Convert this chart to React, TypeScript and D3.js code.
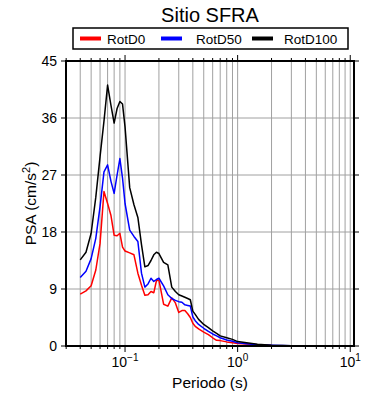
import * as React from 'react';
import * as d3 from 'd3';

// periods (s) shared by the three spectra
const periods = [
  0.04, 0.045, 0.05, 0.055, 0.06, 0.065, 0.07, 0.075, 0.08, 0.085, 0.09, 0.095,
  0.1, 0.11, 0.12, 0.13, 0.14, 0.15, 0.16, 0.17, 0.18, 0.19, 0.2, 0.22, 0.24,
  0.26, 0.28, 0.3, 0.32, 0.34, 0.36, 0.38, 0.4, 0.42, 0.45, 0.5, 0.55, 0.6,
  0.65, 0.7, 0.8, 0.9, 1.0, 1.2, 1.5, 2.0, 2.5, 3.0, 4.0, 5.0, 6.0, 7.5, 10.0,
];

const rotD0 = [
  8.2, 8.7, 9.5, 12.0, 16.2, 24.4, 22.5, 20.6, 17.5, 17.4, 17.8, 15.6,
  15.0, 14.7, 14.4, 11.5, 9.6, 8.0, 8.1, 8.6, 8.4, 10.3, 10.4, 6.6, 6.3,
  7.6, 6.8, 5.3, 5.6, 5.6, 5.1, 4.5, 3.6, 3.1, 2.7, 2.2, 1.8, 1.3,
  0.9, 0.85, 0.65, 0.52, 0.4, 0.3, 0.18, 0.08, 0.05, 0.03, 0.02, 0.012, 0.01, 0.008, 0.005,
];

const rotD50 = [
  10.8, 11.8, 13.8, 17.0, 22.0, 27.5, 28.6, 26.0, 24.1, 27.0, 29.6, 26.5,
  22.5, 18.3, 17.3, 16.5, 11.5, 9.3, 9.8, 10.7, 10.2, 10.5, 10.7, 9.5, 8.1,
  7.5, 7.2, 7.0, 6.9, 6.5, 6.4, 6.3, 4.6, 4.0, 3.4, 2.8, 2.3, 1.9,
  1.6, 1.3, 0.95, 0.75, 0.5, 0.35, 0.2, 0.1, 0.06, 0.04, 0.025, 0.015, 0.012, 0.009, 0.006,
];

const rotD100 = [
  13.6, 14.8, 17.8, 23.5, 29.9, 35.5, 41.2, 38.0, 35.2, 37.5, 38.6, 38.2,
  34.6, 25.0, 22.3, 20.3, 16.0, 12.5, 12.7, 13.5, 14.4, 14.8, 14.6, 13.2, 12.8,
  9.3, 8.6, 8.1, 7.9, 7.7, 7.5, 7.3, 5.5, 5.0, 4.2, 3.4, 2.9, 2.4,
  2.0, 1.6, 1.3, 1.05, 0.7, 0.5, 0.26, 0.12, 0.08, 0.05, 0.03, 0.02, 0.015, 0.01, 0.008,
];

const seriesNames = ['RotD0', 'RotD50', 'RotD100'];
const seriesColors = ['#ff0000', '#0000ff', '#000000'];
const seriesValues = [rotD0, rotD50, rotD100];

const yTicks = [0, 9, 18, 27, 36, 45];
const xMajorExps = [-1, 0, 1];

const FONT = '"Liberation Sans", Arial, Helvetica, sans-serif';

export default function App() {
  const width = 390;
  const height = 400;
  const plot = { left: 66, right: 354, top: 61, bottom: 346 };

  const x = d3.scaleLog().domain([0.0299, 10.8]).range([plot.left, plot.right]);
  const y = d3.scaleLinear().domain([0, 45]).range([plot.bottom, plot.top]);

  // every 1..9 multiple per decade inside the domain
  const minor: number[] = [];
  for (let e = -2; e <= 1; e++) {
    for (let k = 1; k <= 9; k++) {
      const v = k * Math.pow(10, e);
      if (v >= 0.0299 && v <= 10.8) minor.push(v);
    }
  }
  const isMajor = (v: number) => Math.abs(Math.log10(v) - Math.round(Math.log10(v))) < 1e-9;

  const line = d3
    .line<number>()
    .x((_, i) => x(periods[i]))
    .y(d => y(d));

  const legendItems = [
    { lx: 80, tx: 107 },
    { lx: 161, tx: 196 },
    { lx: 252, tx: 284 },
  ];

  return (
    <svg
      width={width}
      height={height}
      style={{ position: 'absolute', left: 0, top: 0, background: '#fff' }}
      fontFamily={FONT}
    >
      <defs>
        <clipPath id="plotClip">
          <rect x={plot.left} y={plot.top} width={plot.right - plot.left} height={plot.bottom - plot.top} />
        </clipPath>
      </defs>

      {/* grid */}
      <g stroke="#a0a0a0" strokeWidth={1}>
        {minor.map(v => (
          <line key={'gx' + v} x1={x(v)} x2={x(v)} y1={plot.top} y2={plot.bottom} />
        ))}
        {yTicks.slice(1, -1).map(t => (
          <line key={'gy' + t} x1={plot.left} x2={plot.right} y1={y(t)} y2={y(t)} />
        ))}
      </g>

      {/* spectra */}
      <g clipPath="url(#plotClip)" fill="none" strokeWidth={1.5} strokeLinejoin="round">
        {seriesValues.map((vals, i) => (
          <path key={seriesNames[i]} d={line(vals) || ''} stroke={seriesColors[i]} />
        ))}
      </g>

      {/* ticks */}
      <g stroke="#000" strokeWidth={1}>
        {minor.map(v => {
          const len = isMajor(v) ? 6 : 3;
          return (
            <g key={'t' + v}>
              <line x1={x(v)} x2={x(v)} y1={plot.bottom} y2={plot.bottom + len} />
              <line x1={x(v)} x2={x(v)} y1={plot.top} y2={plot.top - len} />
            </g>
          );
        })}
        {yTicks.map(t => (
          <g key={'ty' + t}>
            <line x1={plot.left - 5} x2={plot.left} y1={y(t)} y2={y(t)} />
            <line x1={plot.right} x2={plot.right + 5} y1={y(t)} y2={y(t)} />
          </g>
        ))}
      </g>

      {/* frame */}
      <rect
        x={plot.left}
        y={plot.top}
        width={plot.right - plot.left}
        height={plot.bottom - plot.top}
        fill="none"
        stroke="#000"
        strokeWidth={2}
      />

      {/* y tick labels */}
      {yTicks.map(t => (
        <text key={'ly' + t} x={plot.left - 9} y={y(t) + 5} textAnchor="end" fontSize={14} fill="#000">
          {t}
        </text>
      ))}

      {/* x tick labels */}
      {xMajorExps.map(e => (
        <text key={'lx' + e} x={x(Math.pow(10, e))} y={367} textAnchor="middle" fontSize={14} fill="#000">
          10
          <tspan dy={-6} fontSize={10}>
            {e < 0 ? '\u2212' + Math.abs(e) : String(e)}
          </tspan>
        </text>
      ))}

      {/* axis titles */}
      <text x={(plot.left + plot.right) / 2} y={388} textAnchor="middle" fontSize={15.5} fill="#000">
        Periodo (s)
      </text>
      <text
        transform={`translate(36, ${(plot.top + plot.bottom) / 2}) rotate(-90)`}
        textAnchor="middle"
        fontSize={15.5}
        fill="#000"
      >
        PSA (cm/s
        <tspan dy={-6} fontSize={11}>2</tspan>
        <tspan dy={6}>)</tspan>
      </text>

      {/* title */}
      <text x={(plot.left + plot.right) / 2} y={22} textAnchor="middle" fontSize={20} fill="#000">
        Sitio SFRA
      </text>

      {/* legend */}
      <rect x={73} y={28} width={275} height={21} fill="#fff" stroke="#000" strokeWidth={1.5} />
      {seriesNames.map((name, i) => (
        <g key={'lg' + name}>
          <line
            x1={legendItems[i].lx}
            x2={legendItems[i].lx + 21}
            y1={38.5}
            y2={38.5}
            stroke={seriesColors[i]}
            strokeWidth={4}
          />
          <text x={legendItems[i].tx} y={43.5} fontSize={13.5} fill="#000">
            {name}
          </text>
        </g>
      ))}
    </svg>
  );
}
